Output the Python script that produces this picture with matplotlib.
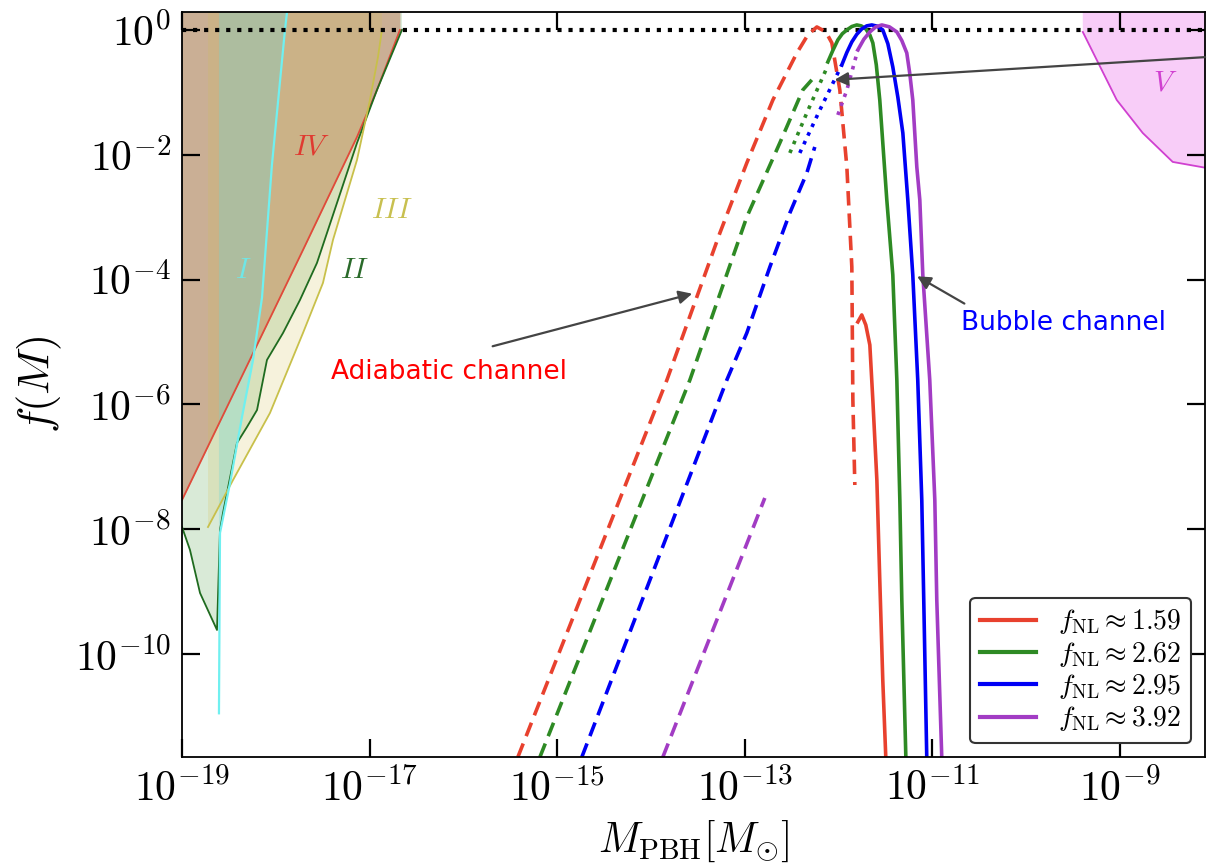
import numpy as np
import matplotlib
matplotlib.use('Agg')
import matplotlib.pyplot as plt
from matplotlib.lines import Line2D

plt.rcParams['mathtext.fontset'] = 'cm'

# all values below are log10 of (M_PBH / M_sun) and log10 of f(M)

# adiabatic channel (dashed)
red_dash_x = [-15.418, -13.829, -13.264, -12.977, -12.699, -12.443, -12.326, -12.230, -12.134, -12.070, -11.985, -11.910, -11.857, -11.846, -11.825]
red_dash_y = [-11.65, -5.609, -3.253, -2.131, -1.122, -0.369, -0.080, 0.048, -0.032, -0.208, -0.962, -2.196, -3.798, -5.929, -7.292]
green_dash_x = [-15.183, -13.584, -12.977, -12.625, -12.380, -12.284]
green_dash_y = [-11.65, -5.609, -2.997, -1.811, -0.962, -0.800]
blue_dash_x = [-14.736, -13.190, -12.977, -12.731, -12.518, -12.337, -12.252]
blue_dash_y = [-11.65, -5.609, -4.856, -3.798, -2.933, -2.292, -1.875]
purple_dash_x = [-13.872, -12.785]
purple_dash_y = [-11.65, -7.500]

# transition (dotted)
green_dot_x = [-12.518, -12.337, -12.124]
green_dot_y = [-1.971, -1.330, -0.609]
blue_dot_x = [-12.412, -12.198, -11.964]
blue_dot_y = [-1.971, -1.282, -0.561]
purple_dot_x = [-12.006, -11.910, -11.793]
purple_dot_y = [-1.362, -0.962, -0.320]

# bubble channel (solid)
red_sol_x = [-11.793, -11.751, -11.708, -11.665, -11.633, -11.590, -11.559, -11.527, -11.495]
red_sol_y = [-4.679, -4.567, -4.728, -5.048, -5.929, -7.212, -8.814, -10.417, -11.65]
green_sol_x = [-12.113, -12.060, -12.006, -11.958, -11.910, -11.857, -11.804, -11.756, -11.708, -11.665, -11.633, -11.596, -11.559, -11.484, -11.420, -11.377, -11.345, -11.324, -11.281]
green_sol_y = [-0.513, -0.330, -0.160, -0.060, 0.000, 0.055, 0.080, 0.065, 0.016, -0.080, -0.208, -0.560, -1.122, -2.724, -3.926, -5.609, -7.532, -9.135, -11.65]
blue_sol_x = [-11.964, -11.910, -11.857, -11.804, -11.751, -11.698, -11.644, -11.585, -11.527, -11.473, -11.420, -11.366, -11.313, -11.260, -11.207, -11.154, -11.111, -11.090, -11.058]
blue_sol_y = [-0.561, -0.360, -0.192, -0.070, 0.016, 0.065, 0.080, 0.060, 0.000, -0.220, -0.593, -1.080, -1.651, -2.724, -3.926, -5.609, -7.532, -9.135, -11.65]
purple_sol_x = [-11.793, -11.729, -11.665, -11.601, -11.537, -11.457, -11.377, -11.324, -11.271, -11.239, -11.207, -11.164, -11.132, -11.100, -11.026, -10.972, -10.951, -10.898]
purple_sol_y = [-0.320, -0.150, -0.032, 0.050, 0.080, 0.050, -0.032, -0.170, -0.369, -0.700, -1.122, -2.196, -2.724, -3.926, -5.609, -7.532, -9.135, -11.65]

fnl_labels = [r'$f_{\rm NL}\approx 1.59$', r'$f_{\rm NL}\approx 2.62$',
              r'$f_{\rm NL}\approx 2.95$', r'$f_{\rm NL}\approx 3.92$']

# constraint regions
IV_x = [-19.0, -17.710, -17.134, -16.921, -16.676]
IV_y = [-7.532, -3.526, -1.715, -0.962, 0.0]
II_x = [-19.0, -18.915, -18.808, -18.627, -18.595, -18.563, -18.414, -18.307, -18.200, -18.094, -17.923, -17.742, -17.561, -17.454, -17.134, -16.921, -16.655]
II_y = [-7.965, -8.333, -9.022, -9.615, -8.013, -7.740, -6.619, -6.362, -6.090, -5.288, -4.856, -4.327, -3.734, -3.253, -1.811, -0.962, 0.0]
III_x = [-18.723, -18.456, -18.062, -17.710, -17.497, -17.390, -17.134, -16.996, -16.910, -16.868]
III_y = [-7.965, -7.212, -6.138, -4.856, -4.054, -3.365, -2.083, -1.122, -0.433, 0.0]
I_x = [-18.606, -18.595, -18.488, -18.360, -18.243, -18.147, -18.041, -17.902, -17.880]
I_y = [-10.95, -8.06, -7.26, -6.20, -5.29, -4.29, -2.16, 0.0, 0.29]
V_x = [-9.394, -9.394, -9.245, -9.032, -8.755, -8.435, -8.072]
V_y = [0.29, -0.032, -0.481, -1.122, -1.651, -2.115, -2.212]

xticks = [-19, -17, -15, -13, -11, -9]
yticks = [-10, -8, -6, -4, -2, 0]

XMIN, XMAX = -19.0, -8.09
YMIN, YMAX = -11.65, 0.288

RED = '#e8412e'
GREEN = '#2e8a24'
BLUE = '#0000f5'
PURPLE = '#a23cc4'


def p(v):
    return np.power(10.0, np.asarray(v, dtype=float))


def main():
    fig = plt.figure(figsize=(12.07, 8.67), dpi=100)
    ax = fig.add_axes([0.1508, 0.1269, 0.8476, 0.8593])
    ax.set_xscale('log')
    ax.set_yscale('log')

    top = YMAX + 0.1

    # region IV (red)
    ax.fill_betweenx(p(IV_y + [top]), p(XMIN - 0.1), p(IV_x + [IV_x[-1]]),
                     color='#d2452f', alpha=0.38, lw=0)
    ax.plot(p(IV_x), p(IV_y), color='#e04a3a', lw=1.3)
    # region II (green)
    iix = II_x + [II_x[-1], XMIN - 0.1]
    iiy = II_y + [top, top]
    ax.fill(p(iix), p(iiy), color='#2e8b22', alpha=0.18, lw=0)
    ax.plot(p(II_x), p(II_y), color='#1f6b1f', lw=1.3)
    # region III (yellow)
    iiix = [III_x[0]] + III_x + [III_x[-1]]
    iiiy = [top] + III_y + [top]
    ax.fill(p(iiix), p(iiiy), color='#d4c050', alpha=0.2, lw=0)
    ax.plot(p(III_x), p(III_y), color='#c8c04a', lw=1.3)
    # region I (cyan)
    ix = [I_x[0]] + I_x + [I_x[-1]]
    iy = [top] + I_y + [top]
    ax.fill(p(ix), p(iy), color='#6ad8d8', alpha=0.3, lw=0)
    ax.plot(p(I_x), p(I_y), color='#70f0f0', lw=1.6)
    # region V (magenta)
    vx = V_x + [V_x[-1] + 0.1, V_x[-1] + 0.1]
    vy = V_y + [V_y[-1], top]
    ax.fill(p(vx), p(vy), color='#ee82ee', alpha=0.4, lw=0)
    ax.plot(p(V_x[1:]), p(V_y[1:]), color='#d040d0', lw=1.3)

    # f = 1 line
    ax.axhline(1.0, color='black', ls=':', lw=3.0)

    lw = 2.6
    dash = (0, (4, 2.2))
    for xs, ys, c in [(red_dash_x, red_dash_y, RED), (green_dash_x, green_dash_y, GREEN),
                      (blue_dash_x, blue_dash_y, BLUE), (purple_dash_x, purple_dash_y, PURPLE)]:
        ax.plot(p(xs), p(ys), color=c, lw=lw, ls=dash)
    for xs, ys, c in [(green_dot_x, green_dot_y, GREEN), (blue_dot_x, blue_dot_y, BLUE),
                      (purple_dot_x, purple_dot_y, PURPLE)]:
        ax.plot(p(xs), p(ys), color=c, lw=lw, ls=':')
    for xs, ys, c in [(red_sol_x, red_sol_y, RED), (green_sol_x, green_sol_y, GREEN),
                      (blue_sol_x, blue_sol_y, BLUE), (purple_sol_x, purple_sol_y, PURPLE)]:
        ax.plot(p(xs), p(ys), color=c, lw=lw)

    # region labels
    lab_kw = dict(fontsize=21, ha='center', va='center')
    ax.text(p(-17.614), p(-1.875), r'$IV$', color='#e03a30', **lab_kw)
    ax.text(p(-16.761), p(-2.885), r'$III$', color='#c8c050', **lab_kw)
    ax.text(p(-17.156), p(-3.846), r'$II$', color='#2a6a2a', **lab_kw)
    ax.text(p(-18.35), p(-3.846), r'$I$', color='#70e6e6', **lab_kw)
    ax.text(p(-8.52), p(-0.85), r'$V$', color='#d040d0', **lab_kw)

    # annotations
    arr = dict(arrowstyle='-|>', color='#444444', lw=1.6, mutation_scale=20)
    ax.annotate('', xy=(p(-13.531), p(-4.215)), xytext=(p(-15.716), p(-5.08)), arrowprops=arr)
    ax.annotate('', xy=(p(-11.186), p(-3.926)), xytext=(p(-10.631), p(-4.407)), arrowprops=arr)
    ax.annotate('', xy=(p(-12.07), p(-0.801)), xytext=(p(-8.06), p(-0.433)), arrowprops=arr,
                annotation_clip=False)
    ax.text(p(-16.154), p(-5.48), 'Adiabatic channel', color='red', fontsize=19,
            ha='center', va='center')
    ax.text(p(-9.597), p(-4.696), 'Bubble channel', color='blue', fontsize=19,
            ha='center', va='center')

    ax.set_xlim(p(XMIN), p(XMAX))
    ax.set_ylim(p(YMIN), p(YMAX))
    ax.set_xticks(p(xticks))
    ax.set_xticklabels([r'$10^{%d}$' % t for t in xticks])
    ax.set_yticks(p(yticks))
    ax.set_yticklabels([r'$10^{%d}$' % t for t in yticks])
    ax.minorticks_off()
    ax.tick_params(which='major', direction='in', length=13, width=1.6,
                   top=True, right=True, labelsize=30, pad=8)
    for s in ax.spines.values():
        s.set_linewidth(1.3)

    ax.set_xlabel(r'$M_{\rm PBH}[M_{\odot}]$', fontsize=30, labelpad=6)
    ax.set_ylabel(r'$f(M)$', fontsize=32, labelpad=8)

    handles = [Line2D([], [], color=c, lw=3) for c in [RED, GREEN, BLUE, PURPLE]]
    leg = ax.legend(handles, fnl_labels, loc='lower right', fontsize=20, frameon=True,
                    fancybox=True, framealpha=1, edgecolor='#333333', handlelength=2.0,
                    borderaxespad=0.5, labelspacing=0.12, borderpad=0.35)
    leg.get_frame().set_linewidth(1.5)

    fig.savefig('out.png', dpi=100)


if __name__ == '__main__':
    main()
